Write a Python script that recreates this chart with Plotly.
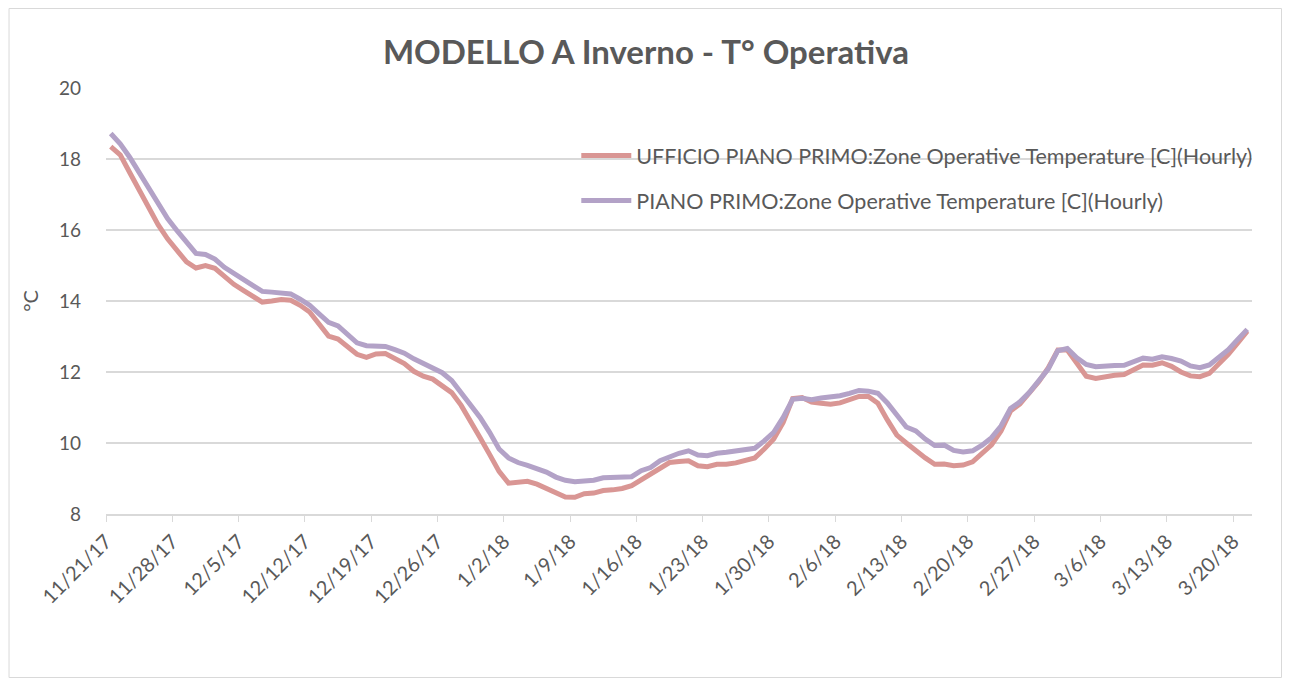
import pandas as pd
import plotly.graph_objects as go

start_date = "2017-11-21"
n_days = 121
dates = pd.date_range(start_date, periods=n_days, freq="D") + pd.Timedelta(hours=12)

ufficio = [
    18.35, 18.12, 17.62, 17.12, 16.62, 16.15, 15.75, 15.40, 15.10, 14.93,
    15.00, 14.92, 14.70, 14.47, 14.30, 14.13, 13.97, 14.00, 14.04, 14.02,
    13.88, 13.69, 13.36, 13.01, 12.93, 12.71, 12.50, 12.41, 12.51, 12.52,
    12.39, 12.24, 12.02, 11.88, 11.80, 11.62, 11.42, 11.06, 10.63, 10.15,
    9.68, 9.20, 8.87, 8.91, 8.92, 8.84, 8.72, 8.57, 8.48, 8.47,
    8.57, 8.59, 8.66, 8.68, 8.72, 8.80, 8.96, 9.09, 9.29, 9.45,
    9.48, 9.50, 9.36, 9.33, 9.40, 9.40, 9.44, 9.50, 9.58, 9.83,
    10.11, 10.58, 11.25, 11.28, 11.15, 11.12, 11.09, 11.13, 11.22, 11.31,
    11.31, 11.12, 10.65, 10.22, 10.00, 9.78, 9.58, 9.40, 9.41, 9.36,
    9.38, 9.47, 9.70, 9.95, 10.34, 10.90, 11.10, 11.41, 11.73, 12.12,
    12.62, 12.62, 12.26, 11.88, 11.82, 11.88, 11.91, 11.93, 12.05, 12.20,
    12.19, 12.26, 12.16, 12.00, 11.89, 11.87, 11.96, 12.22, 12.50, 12.82,
    13.15,
]

piano = [
    18.72, 18.43, 18.05, 17.62, 17.18, 16.75, 16.32, 15.98, 15.66, 15.34,
    15.31, 15.18, 14.95, 14.77, 14.60, 14.44, 14.27, 14.25, 14.24, 14.20,
    14.05, 13.88, 13.64, 13.40, 13.30, 13.06, 12.82, 12.74, 12.73, 12.72,
    12.63, 12.53, 12.37, 12.24, 12.14, 11.98, 11.76, 11.42, 11.08, 10.72,
    10.30, 9.83, 9.58, 9.45, 9.37, 9.29, 9.18, 9.04, 8.95, 8.91,
    8.92, 8.95, 9.02, 9.03, 9.03, 9.05, 9.22, 9.31, 9.50, 9.62,
    9.71, 9.78, 9.66, 9.64, 9.71, 9.74, 9.77, 9.80, 9.85, 10.06,
    10.30, 10.72, 11.23, 11.26, 11.22, 11.27, 11.30, 11.33, 11.40, 11.48,
    11.46, 11.40, 11.13, 10.80, 10.45, 10.34, 10.11, 9.93, 9.94, 9.79,
    9.75, 9.78, 9.94, 10.15, 10.48, 10.97, 11.16, 11.43, 11.74, 12.09,
    12.60, 12.66, 12.40, 12.21, 12.15, 12.18, 12.18, 12.19, 12.28, 12.39,
    12.36, 12.43, 12.38, 12.31, 12.17, 12.12, 12.20, 12.40, 12.63, 12.92,
    13.20,
]

series_names = [
    "UFFICIO PIANO PRIMO:Zone Operative Temperature [C](Hourly)",
    "PIANO PRIMO:Zone Operative Temperature [C](Hourly)",
]
colors = ["#d99694", "#b3a2c7"]

FONT = "Lato, 'Open Sans', sans-serif"
TXT = "#595959"

fig = go.Figure()
for name, vals, col, grp in [(series_names[0], ufficio, colors[0], "a"),
                             (series_names[1], piano, colors[1], "b")]:
    fig.add_trace(go.Scatter(x=dates, y=vals, mode="lines", name=name,
                             legendgroup=grp,
                             line=dict(color=col, width=5, shape="linear")))

# page body has an 8px margin; the figure sits at (8, 8) on screen
OFF = 8
W, H = 1274, 670
L, T = 105.5 - OFF, 88 - OFF
PR, PB = 1252 - OFF, 514 - OFF  # plot right / bottom in figure px
R, B = W - PR, H - PB
pw, ph = PR - L, PB - T

def px_x(p):  # screen px -> paper
    return (p - OFF - L) / pw

def px_y(p):
    return (PB - (p - OFF)) / ph

fig.add_shape(type="rect", xref="paper", yref="paper",
              x0=(0.5 - L) / pw, x1=(W - 0.5 - L) / pw,
              y0=(PB - (H - 0.5)) / ph, y1=(PB - 0.5) / ph,
              line=dict(color="#d9d9d9", width=1), fillcolor="rgba(0,0,0,0)",
              layer="below")

fig.update_layout(
    width=W, height=H,
    margin=dict(l=L, r=R, t=T, b=B, autoexpand=False),
    paper_bgcolor="white", plot_bgcolor="white",
    font=dict(family=FONT, color=TXT, size=19),
    title=dict(text="<b>MODELLO A Inverno - T° Operativa</b>",
               x=(646 - OFF) / W, xref="container", xanchor="center",
               y=1 - (52 - OFF) / H, yref="container", yanchor="middle",
               font=dict(family=FONT, size=33, color=TXT)),
    showlegend=True,
    legend=dict(x=px_x(576), y=px_y(135), xanchor="left", yanchor="top",
                bgcolor="rgba(0,0,0,0)", font=dict(size=21.5, color=TXT),
                tracegroupgap=14, itemwidth=50),
    xaxis=dict(type="date",
               range=["2017-11-21", "2018-03-22"],
               tick0="2017-11-21", dtick=7 * 86400000,
               tickformat="%-m/%-d/%y", tickangle=-45,
               ticks="outside", ticklen=6, tickcolor="#d9d9d9",
               showline=True, linecolor="#d9d9d9", linewidth=2,
               showgrid=False, zeroline=False,
               tickfont=dict(size=20, color=TXT)),
    yaxis=dict(range=[8, 20], dtick=2, tick0=8,
               showgrid=True, gridcolor="#d9d9d9", gridwidth=1.5,
               zeroline=False, showline=False, ticks="",
               ticklabelstandoff=24,
               tickfont=dict(size=19, color=TXT),
               title=dict(text="°C", font=dict(size=20, color=TXT), standoff=14)),
)

fig.write_html("out.html")
